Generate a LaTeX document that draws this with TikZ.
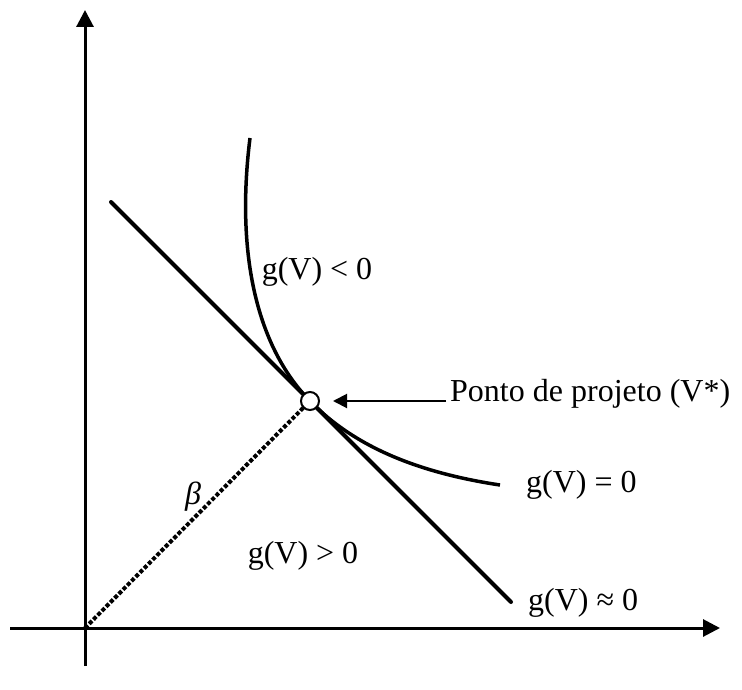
\documentclass[tikz,border=0pt]{standalone}
\usepackage{fontspec}
\setmainfont{Liberation Serif}
\usetikzlibrary{arrows.meta}
\begin{document}
\begin{tikzpicture}[x=1pt,y=-1pt,
  axis/.style={line width=3pt,-{Triangle[length=17pt,width=17pt]}},
  lbl/.style={font=\fontsize{32}{38}\selectfont,inner sep=0pt}]
\useasboundingbox (0,0) rectangle (742,690);
\coordinate (O) at (85,628);
\coordinate (ytop) at (85,10);
\coordinate (ybot) at (85,666);
\coordinate (xleft) at (10,628);
\coordinate (xright) at (720,628);
\draw[axis] (ybot) -- (ytop);
\draw[axis] (xleft) -- (xright);
\coordinate (L1) at (111,202);
\coordinate (L2) at (511,602);
\draw[line width=4pt,line cap=round] (L1) -- (L2);
\coordinate (C1) at (250,138);
\coordinate (C3) at (500,485);
\draw[line width=3.5pt] (C1) .. controls (236,250) and (255,345) .. (310,401)
  .. controls (345,437) and (400,470) .. (C3);
\draw[line width=4pt,dotted] (O) -- (310,401);
\node[circle,draw,fill=white,line width=2pt,minimum size=18pt,inner sep=0pt] (P) at (310,401) {};
\coordinate (ast) at (446,401);
\coordinate (aen) at (333,401);
\draw[line width=2pt,-{Triangle[length=14pt,width=14pt]}] (ast) -- (aen);
\node[lbl,anchor=west] (pp) at (450,394) {Ponto de projeto (V*)};
\node[lbl] (lt) at (317,272) {g(V) < 0};
\node[lbl,anchor=west] (eq) at (526,485) {g(V) = 0};
\node[lbl,anchor=west] (ap) at (528,603) {g(V) ≈ 0};
\node[lbl] (gt) at (303,556) {g(V) > 0};
\node[lbl] (b) at (193,497) {\itshape β};
\end{tikzpicture}
\end{document}
